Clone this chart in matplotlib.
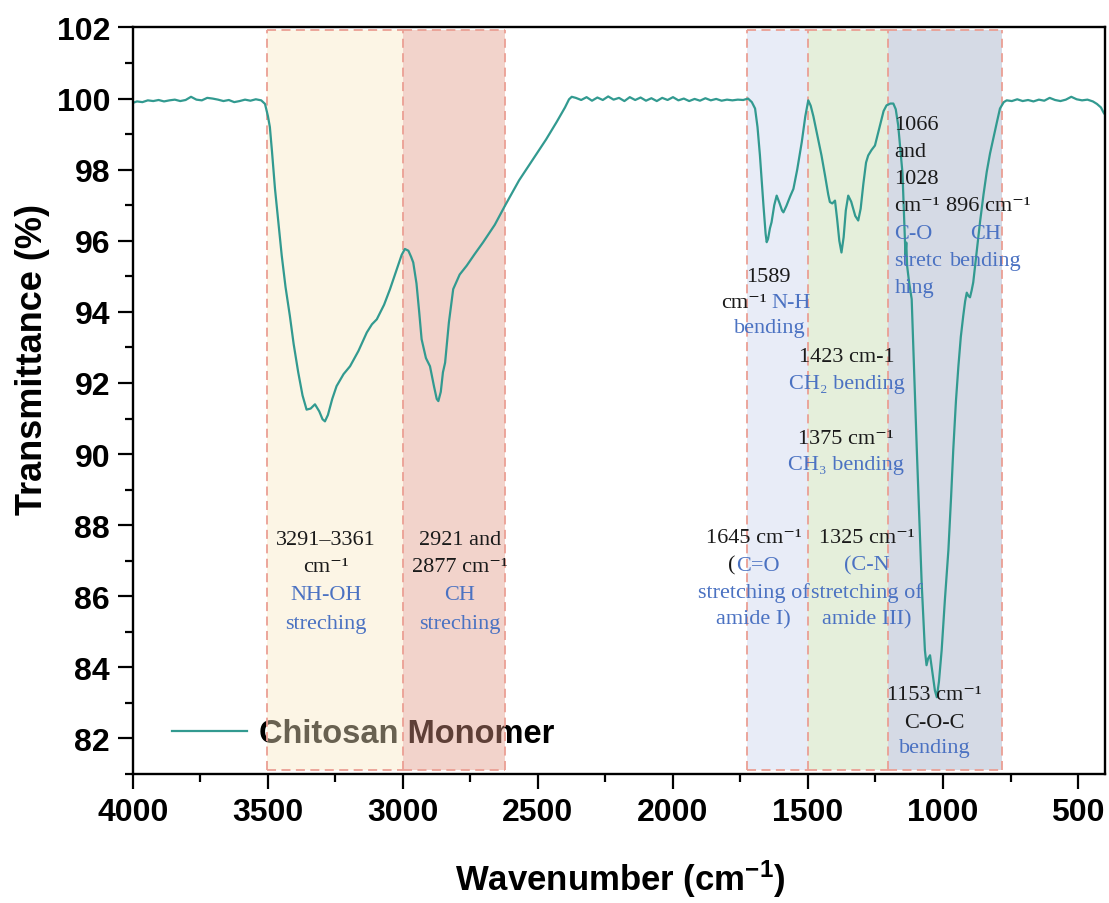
import matplotlib
matplotlib.use("Agg")
import matplotlib.pyplot as plt
from matplotlib.patches import Rectangle
from matplotlib.ticker import MultipleLocator

# ---------------- data ----------------
wavenumber = [
    4000, 3985, 3965, 3945, 3925, 3905, 3885, 3865, 3845, 3825, 3805, 3785, 3765, 3745,
    3725, 3705, 3685, 3665, 3645, 3625, 3605, 3585, 3565, 3545, 3525, 3511, 3500, 3493,
    3485, 3474, 3460, 3449, 3435, 3419, 3405, 3388, 3372, 3357, 3342, 3326, 3310, 3298,
    3289, 3278, 3262, 3246, 3220, 3196, 3165, 3134, 3115, 3097, 3070, 3048, 3025, 3005,
    2993, 2980, 2970, 2962, 2950, 2940, 2931, 2915, 2900, 2885, 2875, 2869, 2860, 2852,
    2844, 2830, 2814, 2790, 2764, 2735, 2703, 2660, 2622, 2570, 2517, 2470, 2431, 2400,
    2385, 2375, 2360, 2340, 2320, 2300, 2280, 2260, 2240, 2220, 2200, 2180, 2160, 2140,
    2120, 2100, 2080, 2060, 2040, 2020, 2000, 1980, 1960, 1940, 1920, 1900, 1880, 1860,
    1840, 1820, 1800, 1780, 1760, 1740, 1722, 1708, 1696, 1687, 1678, 1665, 1657, 1653,
    1648, 1641, 1635, 1625, 1616, 1605, 1596, 1591, 1580, 1566, 1554, 1540, 1523, 1510,
    1499, 1490, 1480, 1468, 1450, 1437, 1425, 1419, 1410, 1400, 1392, 1384, 1376, 1368,
    1360, 1351, 1340, 1325, 1314, 1305, 1295, 1285, 1277, 1265, 1252, 1235, 1220, 1209,
    1195, 1184, 1175, 1166, 1157, 1150, 1143, 1139, 1136, 1133, 1125, 1116, 1097, 1079,
    1067, 1061, 1055, 1048, 1040, 1030, 1023, 1015, 1005, 993, 980, 970, 962, 952,
    943, 934, 925, 918, 912, 906, 900, 894, 888, 875, 863, 850, 838, 826,
    814, 800, 789, 775, 764, 745, 725, 705, 685, 665, 645, 625, 605, 585,
    565, 545, 525, 505, 485, 465, 445, 430, 415, 405, 400,
]
transmittance = [
    99.88, 99.92, 99.90, 99.95, 99.93, 99.96, 99.92, 99.95, 99.97, 99.93, 99.96, 100.05, 99.97, 99.95,
    100.02, 100.00, 99.97, 99.93, 99.96, 99.90, 99.93, 99.97, 99.94, 99.98, 99.95, 99.85, 99.50, 99.20,
    98.50, 97.46, 96.40, 95.58, 94.70, 93.89, 93.10, 92.30, 91.65, 91.25, 91.28, 91.40, 91.20, 90.98,
    90.92, 91.10, 91.55, 91.91, 92.25, 92.47, 92.90, 93.42, 93.65, 93.79, 94.20, 94.64, 95.15, 95.60,
    95.77, 95.72, 95.55, 95.39, 94.80, 94.00, 93.23, 92.70, 92.47, 91.90, 91.55, 91.49, 91.75, 92.30,
    92.57, 93.70, 94.64, 95.05, 95.30, 95.62, 95.96, 96.45, 96.99, 97.70, 98.31, 98.85, 99.34, 99.75,
    99.98, 100.05, 100.02, 99.96, 100.04, 99.94, 100.03, 99.96, 100.06, 99.97, 100.02, 99.93, 100.04, 99.96,
    100.03, 99.94, 100.01, 99.93, 100.02, 99.96, 100.04, 99.95, 100.00, 99.93, 99.99, 99.94, 100.01, 99.95,
    99.99, 99.94, 99.97, 99.95, 99.97, 99.96, 100.00, 99.90, 99.72, 99.20, 98.40, 97.00, 96.20, 95.96,
    96.05, 96.35, 96.52, 97.00, 97.27, 97.05, 96.85, 96.80, 96.98, 97.25, 97.46, 98.00, 98.78, 99.50,
    99.95, 99.80, 99.50, 99.06, 98.40, 97.84, 97.30, 97.09, 97.05, 97.13, 96.60, 96.00, 95.67, 96.10,
    96.85, 97.27, 97.10, 96.70, 96.57, 96.90, 97.60, 98.20, 98.40, 98.55, 98.68, 99.20, 99.65, 99.81,
    99.86, 99.86, 99.70, 99.25, 98.50, 97.90, 96.40, 95.60, 95.95, 95.30, 94.80, 94.36, 90.12, 86.37,
    84.48, 84.06, 84.25, 84.34, 83.90, 83.35, 83.16, 83.60, 84.48, 85.90, 87.30, 88.80, 90.12, 91.50,
    92.47, 93.30, 93.89, 94.30, 94.54, 94.45, 94.41, 94.60, 94.83, 95.70, 96.52, 97.30, 97.94, 98.45,
    98.87, 99.35, 99.72, 99.90, 99.95, 99.93, 99.98, 99.93, 99.96, 99.92, 99.97, 99.94, 100.02, 99.96,
    99.93, 99.97, 100.05, 99.98, 99.95, 99.97, 99.92, 99.85, 99.75, 99.60, 99.55,
]
series_label = "Chitosan Monomer"

band_start = [3505, 3000, 1726, 1500, 1204]
band_end = [3000, 2622, 1500, 1204, 782]
band_colors = ["#fae9c3", "#e29885", "#cad4ec", "#c1dbab", "#9ba9c3"]

x_ticks = [4000, 3500, 3000, 2500, 2000, 1500, 1000, 500]
y_ticks = [82, 84, 86, 88, 90, 92, 94, 96, 98, 100, 102]

K = "#1a1a1a"
B = "#4b72c2"
# (text, wavenumber, transmittance, colour, horizontal alignment)
annotations = [
    ("3291\u20133361", 3285, 87.48, K, "center"),
    ("cm\u207b\u00b9", 3285, 86.70, K, "center"),
    ("NH-OH", 3285, 85.91, B, "center"),
    ("streching", 3285, 85.12, B, "center"),
    ("2921 and", 2789, 87.48, K, "center"),
    ("2877 cm\u207b\u00b9", 2789, 86.70, K, "center"),
    ("CH", 2789, 85.91, B, "center"),
    ("streching", 2789, 85.12, B, "center"),
    ("1645 cm\u207b\u00b9", 1701, 87.54, K, "center"),
    ("(", 1767.5, 86.75, K, "right"),
    ("C=O", 1767.5, 86.75, B, "left"),
    ("stretching of", 1701, 85.99, B, "center"),
    ("amide I)", 1701, 85.23, B, "center"),
    ("1325 cm\u207b\u00b9", 1282.5, 87.54, K, "center"),
    ("(C-N", 1282.5, 86.75, B, "center"),
    ("stretching of", 1282.5, 85.99, B, "center"),
    ("amide III)", 1282.5, 85.23, B, "center"),
    ("1153 cm\u207b\u00b9", 1030.6, 83.11, K, "center"),
    ("C-O-C", 1030.6, 82.32, K, "center"),
    ("bending", 1030.6, 81.62, B, "center"),
    ("1066", 1180, 99.14, K, "left"),
    ("and", 1180, 98.38, K, "left"),
    ("1028", 1180, 97.62, K, "left"),
    ("cm\u207b\u00b9", 1180, 96.86, K, "left"),
    ("C-O", 1180, 96.07, B, "left"),
    ("stretc", 1180, 95.31, B, "left"),
    ("hing", 1180, 94.55, B, "left"),
    ("896 cm\u207b\u00b9", 832, 96.86, K, "center"),
    ("CH", 841.9, 96.07, B, "center"),
    ("bending", 841.9, 95.31, B, "center"),
    ("1589", 1645.3, 94.86, K, "center"),
    ("cm\u207b\u00b9", 1652.7, 94.13, K, "right"),
    ("N-H", 1634.2, 94.13, B, "left"),
    ("bending", 1641.6, 93.42, B, "center"),
    ("1423 cm-1", 1356.5, 92.61, K, "center"),
    ("CH\u2082 bending", 1356.5, 91.87, B, "center"),
    ("1375 cm\u207b\u00b9", 1360, 90.30, K, "center"),
    ("CH\u2083 bending", 1360, 89.59, B, "center"),
]

# ---------------- style ----------------
plt.rcParams["font.family"] = ["Liberation Sans", "DejaVu Sans"]
plt.rcParams["font.weight"] = "bold"
plt.rcParams["mathtext.fontset"] = "custom"
plt.rcParams["mathtext.rm"] = "Liberation Sans:bold"
plt.rcParams["mathtext.bf"] = "Liberation Sans:bold"
plt.rcParams["mathtext.it"] = "Liberation Sans:bold"

fig = plt.figure(figsize=(11.09, 9.04), dpi=100)
ax = fig.add_axes([0.1199, 0.1427, 0.8765, 0.8258])

band_bottom, band_top = 81.11, 101.92
edge_kw = dict(color="#eb9f94", linewidth=1.3, linestyle=(0, (5, 3)), zorder=1.5)
drawn_x = set()
for x0, x1, c in zip(band_start, band_end, band_colors):
    ax.add_patch(Rectangle((x0, band_bottom), x1 - x0, band_top - band_bottom,
                           facecolor=c, alpha=0.42, edgecolor="none", zorder=1))
    ax.plot([x0, x1], [band_top, band_top], **edge_kw)
    ax.plot([x0, x1], [band_bottom, band_bottom], **edge_kw)
    for xv in (x0, x1):
        if xv not in drawn_x:
            ax.plot([xv, xv], [band_bottom, band_top], **edge_kw)
            drawn_x.add(xv)

ax.plot(wavenumber, transmittance, color="#329a90", linewidth=1.6, zorder=2,
        label=series_label)

ax.set_xlim(4000, 400)
ax.set_ylim(81, 102)
ax.set_xticks(x_ticks)
ax.set_yticks(y_ticks)
ax.xaxis.set_minor_locator(MultipleLocator(250))
ax.yaxis.set_minor_locator(MultipleLocator(1))
ax.tick_params(which="major", direction="out", length=10.5, width=1.6,
               labelsize=23, pad=6)
ax.tick_params(which="minor", direction="out", length=5.5, width=1.6)
for lab in ax.get_xticklabels() + ax.get_yticklabels():
    lab.set_fontweight("bold")
for sp in ax.spines.values():
    sp.set_linewidth(1.7)

handles, labels = ax.get_legend_handles_labels()
series_handles = [h for h, l in zip(handles, labels) if l == series_label]
leg = ax.legend(series_handles, [series_label], loc="center left",
                bbox_to_anchor=(0.040, 0.0536), frameon=False,
                handlelength=2.3, handletextpad=0.36, borderpad=0, borderaxespad=0,
                prop={"family": "Liberation Sans", "weight": "bold", "size": 23.5})
leg.set_zorder(0.5)

for txt, x, y, col, ha in annotations:
    ax.text(x, y, txt, color=col, ha=ha, va="baseline", fontsize=16,
            fontweight="normal", family=["Liberation Serif", "DejaVu Serif"], zorder=3)

fig.text(0.029, 0.602, "Transmittance (%)", rotation=90, ha="center", va="center",
         fontsize=26, fontweight="bold")
fig.text(0.559, 0.027, r"Wavenumber (cm$^{\mathbf{-1}}$)", ha="center", va="center",
         fontsize=25, fontweight="bold")

fig.savefig("out.png", dpi=100)
